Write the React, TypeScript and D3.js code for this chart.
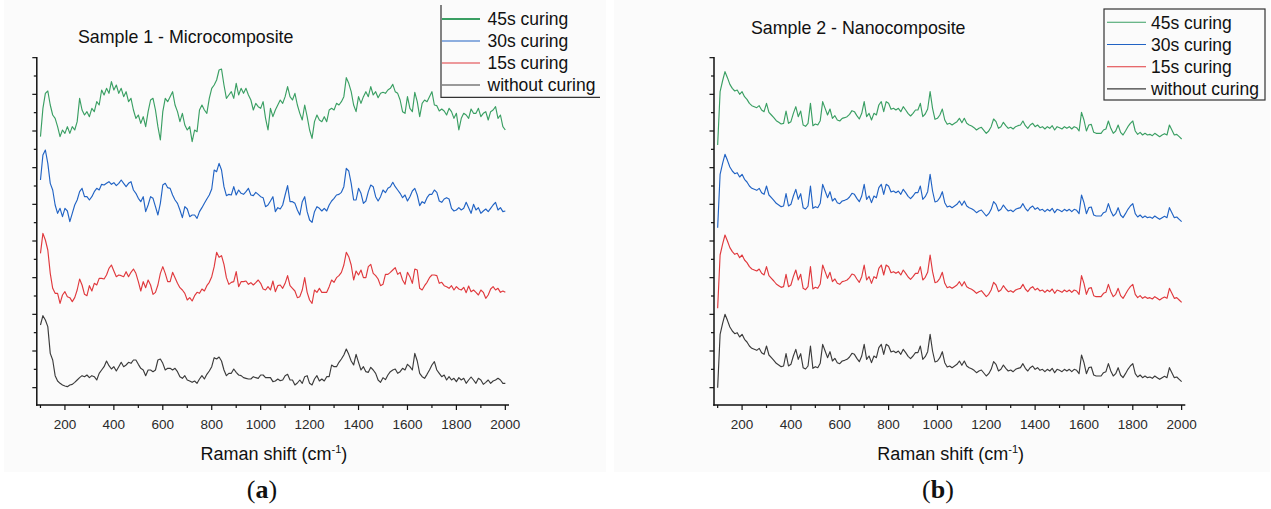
import React from 'react';
import * as d3 from 'd3';

// Raman shift sampling (cm-1)
const ramanShift: number[] = d3.range(100, 2001, 10);

const seriesNames = ['45s curing', '30s curing', '15s curing', 'without curing'];
const seriesColors = ['#3a9f63', '#2163c4', '#e0393d', '#3b3b3b'];

const xMajorTicks = [200, 400, 600, 800, 1000, 1200, 1400, 1600, 1800, 2000];
const xMinorTicks = [100, 300, 500, 700, 900, 1100, 1300, 1500, 1700, 1900];
const yMajorTicks = [52, 162, 272, 382, 492, 602, 712, 822, 932, 1042];
const yMinorTicks = [107, 217, 327, 437, 547, 657, 767, 877, 987];

// ---------- Sample 1 - Microcomposite (intensity, a.u., stacked) ----------
const micro45 = [
  805, 890, 935, 942, 900, 870, 860, 835, 805, 825,
  815, 835, 815, 835, 825, 850, 920, 885, 870, 880,
  865, 890, 880, 910, 900, 945, 930, 950, 935, 970,
  945, 960, 935, 950, 925, 940, 910, 920, 885, 860,
  870, 845, 865, 835, 880, 915, 920, 885, 835, 795,
  880, 920, 910, 925, 940, 900, 880, 850, 875, 840,
  825, 835, 790, 825, 820, 885, 900, 885, 875, 920,
  950, 960, 975, 1005, 1008, 960, 920, 930, 940, 920,
  965, 930, 950, 935, 950, 930, 915, 885, 905, 895,
  890, 910, 860, 825, 890, 865, 885, 900, 915, 905,
  925, 955, 925, 915, 935, 900, 875, 855, 900, 865,
  825, 800, 850, 870, 855, 850, 865, 850, 885, 890,
  885, 905, 900, 910, 925, 982, 965, 940, 900, 880,
  925, 905, 925, 940, 925, 955, 930, 940, 922, 935,
  938, 935, 945, 950, 962, 940, 935, 915, 880, 875,
  925, 890, 880, 938, 910, 865, 905, 915, 910, 925,
  940, 900, 898, 882, 888, 882, 870, 890, 880, 860,
  875, 825, 860, 875, 870, 860, 888, 875, 875, 890,
  865, 875, 880, 855, 880, 885, 895, 860, 870, 835,
  825,
];
const micro30 = [
  675, 750, 765, 725, 665, 645, 600, 575, 590, 565,
  590, 582, 550, 575, 600, 615, 640, 650, 625, 625,
  615, 625, 640, 650, 645, 662, 660, 665, 670, 662,
  667, 658, 665, 675, 665, 655, 665, 670, 645, 635,
  620, 610, 625, 580, 600, 625, 620, 595, 570, 605,
  660, 665, 652, 650, 630, 615, 605, 585, 562, 595,
  588, 565, 570, 570, 560, 580, 592, 605, 618, 630,
  648, 705, 700, 725, 705, 655, 628, 632, 630, 655,
  630, 645, 635, 632, 640, 650, 630, 628, 638, 632,
  625, 622, 595, 600, 612, 625, 580, 592, 588, 600,
  630, 658, 610, 610, 605, 585, 570, 610, 625, 580,
  555, 548, 580, 595, 590, 582, 590, 582, 600, 612,
  620, 630, 632, 638, 655, 710, 702, 665, 615, 615,
  650, 635, 605, 612, 640, 660, 655, 625, 612, 625,
  645, 637, 650, 655, 668, 655, 645, 635, 622, 630,
  612, 625, 642, 650, 630, 598, 610, 605, 622, 632,
  632, 645, 638, 612, 608, 618, 622, 618, 590, 582,
  585, 592, 585, 590, 608, 592, 575, 602, 585, 592,
  575, 582, 588, 580, 590, 600, 608, 585, 592, 580,
  582,
];
const micro15 = [
  455, 515, 495, 465, 395, 350, 335, 335, 305, 330,
  340, 325, 322, 310, 322, 345, 378, 360, 332, 328,
  358, 342, 365, 360, 380, 380, 378, 390, 410, 420,
  402, 385, 390, 388, 385, 400, 385, 398, 408, 395,
  370, 342, 370, 352, 375, 360, 332, 338, 360, 395,
  415, 395, 370, 370, 398, 382, 365, 352, 345, 335,
  315, 322, 312, 328, 338, 335, 348, 342, 358, 368,
  385, 415, 458, 443, 448, 422, 382, 362, 368, 370,
  400, 355, 370, 370, 372, 362, 367, 360, 367, 375,
  365, 348, 345, 355, 345, 372, 340, 358, 360, 350,
  365, 388, 358, 350, 342, 322, 325, 345, 382, 338,
  315, 305, 345, 338, 350, 338, 338, 338, 355, 375,
  368, 382, 388, 398, 420, 458, 445, 420, 375, 402,
  390, 405, 382, 382, 415, 422, 395, 388, 378, 358,
  362, 392, 392, 398, 405, 412, 392, 398, 375, 362,
  398, 385, 365, 408, 405, 350, 345, 358, 368, 382,
  390, 390, 388, 365, 368, 358, 355, 350, 358, 345,
  355, 348, 345, 353, 337, 357, 340, 345, 338, 330,
  345, 338, 320, 330, 348, 355, 345, 350, 338, 342,
  338,
];
const micro0 = [
  240, 268, 255, 235, 155, 135, 88, 72, 65, 60,
  57, 55, 60, 62, 68, 75, 82, 88, 85, 90,
  82, 88, 85, 75, 95, 105, 115, 132, 118, 108,
  115, 102, 115, 128, 115, 120, 128, 125, 135, 135,
  122, 110, 105, 88, 105, 105, 100, 105, 135, 138,
  125, 105, 110, 110, 105, 110, 100, 85, 80, 88,
  75, 72, 68, 72, 65, 78, 88, 78, 92, 102,
  115, 142, 138, 144, 132, 105, 88, 95, 95, 108,
  98, 90, 88, 82, 80, 78, 78, 85, 82, 80,
  90, 90, 82, 82, 82, 70, 72, 78, 73, 75,
  88, 92, 75, 75, 60, 66, 75, 65, 85, 88,
  65, 60, 78, 88, 72, 78, 72, 85, 85, 120,
  115, 115, 128, 138, 150, 168, 152, 132, 120, 152,
  128, 105, 115, 100, 98, 113, 105, 95, 75, 68,
  82, 76, 90, 100, 105, 108, 95, 100, 110, 105,
  122, 115, 105, 155, 132, 95, 85, 80, 92, 105,
  120, 130, 105, 95, 85, 90, 75, 85, 75, 80,
  70, 82, 75, 80, 65, 75, 84, 75, 65, 80,
  75, 62, 68, 75, 65, 72, 75, 80, 75, 65,
  65,
];

// ---------- Sample 2 - Nanocomposite (intensity, a.u., stacked) ----------
const nano45 = [
  780, 940, 972, 1000, 982, 962, 950, 942, 945, 932,
  940, 925, 917, 905, 898, 895, 892, 898, 885, 880,
  905, 878, 870, 862, 853, 848, 843, 845, 882, 845,
  850, 875, 895, 865, 882, 840, 836, 845, 905, 838,
  843, 840, 853, 910, 890, 870, 888, 860, 868, 855,
  852, 860, 862, 865, 872, 883, 880, 868, 858, 875,
  910, 865, 875, 855, 875, 870, 900, 910, 880, 910,
  905, 887, 890, 885, 890, 880, 895, 885, 874, 867,
  875, 885, 885, 905, 865, 873, 888, 940, 890, 857,
  860, 870, 888, 855, 842, 845, 840, 845, 850, 860,
  847, 860, 845, 840, 837, 832, 825, 830, 833, 824,
  815, 822, 835, 858, 850, 830, 835, 848, 838, 830,
  833, 828, 835, 838, 840, 852, 838, 830, 840, 845,
  835, 840, 832, 835, 828, 835, 830, 838, 825, 835,
  832, 828, 835, 830, 835, 828, 835, 832, 822, 878,
  855, 822, 840, 842, 818, 815, 815, 815, 825, 828,
  852, 830, 815, 822, 840, 818, 810, 822, 835, 845,
  852, 822, 812, 818, 810, 815, 810, 812, 808, 815,
  810, 805, 810, 814, 810, 840, 825, 810, 812, 805,
  798,
];
const nano30 = [
  532, 692, 724, 752, 734, 714, 702, 694, 697, 684,
  692, 677, 669, 657, 650, 647, 644, 650, 637, 632,
  657, 630, 622, 614, 605, 600, 595, 597, 634, 597,
  602, 627, 647, 617, 634, 592, 588, 597, 657, 590,
  595, 592, 605, 662, 642, 622, 640, 612, 620, 607,
  604, 612, 614, 617, 624, 635, 632, 620, 610, 627,
  662, 617, 627, 607, 627, 622, 652, 662, 632, 662,
  657, 639, 642, 637, 642, 632, 647, 637, 626, 619,
  627, 637, 637, 657, 617, 625, 640, 692, 642, 609,
  612, 622, 640, 607, 594, 597, 592, 597, 602, 612,
  599, 612, 597, 592, 589, 584, 577, 582, 585, 576,
  567, 574, 587, 610, 602, 582, 587, 600, 590, 582,
  585, 580, 587, 590, 592, 604, 590, 582, 592, 597,
  587, 592, 584, 587, 580, 587, 582, 590, 577, 587,
  584, 580, 587, 582, 587, 580, 587, 584, 574, 630,
  607, 574, 592, 594, 570, 567, 567, 567, 577, 580,
  604, 582, 567, 574, 592, 570, 562, 574, 587, 597,
  604, 574, 564, 570, 562, 567, 562, 564, 560, 567,
  562, 557, 562, 566, 562, 592, 577, 562, 564, 557,
  550,
];
const nano15 = [
  290, 450, 482, 510, 492, 472, 460, 452, 455, 442,
  450, 435, 427, 415, 408, 405, 402, 408, 395, 390,
  415, 388, 380, 372, 363, 358, 353, 355, 392, 355,
  360, 385, 405, 375, 392, 350, 346, 355, 415, 348,
  353, 350, 363, 420, 400, 380, 398, 370, 378, 365,
  362, 370, 372, 375, 382, 393, 390, 378, 368, 385,
  420, 375, 385, 365, 385, 380, 410, 420, 390, 420,
  415, 397, 400, 395, 400, 390, 405, 395, 384, 377,
  385, 395, 395, 415, 375, 383, 398, 450, 400, 367,
  370, 380, 398, 365, 352, 355, 350, 355, 360, 370,
  357, 370, 355, 350, 347, 342, 335, 340, 343, 334,
  325, 332, 345, 368, 360, 340, 345, 358, 348, 340,
  343, 338, 345, 348, 350, 362, 348, 340, 350, 355,
  345, 350, 342, 345, 338, 345, 340, 348, 335, 345,
  342, 338, 345, 340, 345, 338, 345, 342, 332, 388,
  365, 332, 350, 352, 328, 325, 325, 325, 335, 338,
  362, 340, 325, 332, 350, 328, 320, 332, 345, 355,
  362, 332, 322, 328, 320, 325, 320, 322, 318, 325,
  320, 315, 320, 324, 320, 350, 335, 320, 322, 315,
  308,
];
const nano0 = [
  52, 212, 244, 272, 254, 234, 222, 214, 217, 204,
  212, 197, 189, 177, 170, 167, 164, 170, 157, 152,
  177, 150, 142, 134, 125, 120, 115, 117, 154, 117,
  122, 147, 167, 137, 154, 112, 108, 117, 177, 110,
  115, 112, 125, 182, 162, 142, 160, 132, 140, 127,
  124, 132, 134, 137, 144, 155, 152, 140, 130, 147,
  182, 137, 147, 127, 147, 142, 172, 182, 152, 182,
  177, 159, 162, 157, 162, 152, 167, 157, 146, 139,
  147, 157, 157, 177, 137, 145, 160, 212, 162, 129,
  132, 142, 160, 127, 114, 117, 112, 117, 122, 132,
  119, 132, 117, 112, 109, 104, 97, 102, 105, 96,
  87, 94, 107, 130, 122, 102, 107, 120, 110, 102,
  105, 100, 107, 110, 112, 124, 110, 102, 112, 117,
  107, 112, 104, 107, 100, 107, 102, 110, 97, 107,
  104, 100, 107, 102, 107, 100, 107, 104, 94, 150,
  127, 94, 112, 114, 90, 87, 87, 87, 97, 100,
  124, 102, 87, 94, 112, 90, 82, 94, 107, 117,
  124, 94, 84, 90, 82, 87, 82, 84, 80, 87,
  82, 77, 82, 86, 82, 112, 97, 82, 84, 77,
  70,
];

const FONT = 'Liberation Sans, Arial, Helvetica, sans-serif';

type LegendCfg = {
  lineX: number; lineLen: number; textX: number; y0: number; dy: number;
  box: 'open' | 'full'; boxX0: number; boxX1: number; boxY0: number; boxY1: number;
  thickFirst: boolean;
};

type PanelProps = {
  xRange: [number, number];
  series: number[][];
  title: string; titleX: number; titleY: number;
  legend: LegendCfg;
  tag: string;
  tagX: number;
  bg: [number, number];
};

function Panel({ xRange, series, title, titleX, titleY, legend, tag, tagX, bg }: PanelProps) {
  const x = d3.scaleLinear().domain([85, 2015]).range(xRange);
  const y = d3.scaleLinear().domain([0, 1050]).range([405, 55]);
  const axisY = y(0);
  const axisTop = y(1044);
  const line = d3
    .line<number>()
    .x((_, i) => x(ramanShift[i]))
    .y((d) => y(d))
    .curve(d3.curveLinear);
  const cx = (xRange[0] + xRange[1]) / 2;
  const L = legend;
  return (
    <g>
      <rect x={bg[0]} y={0} width={bg[1] - bg[0]} height={472} fill="#fbfbfb" />
      {/* spectra */}
      {series
        .map((s, i) => ({ s, i }))
        .reverse()
        .map(({ s, i }) => (
          <path key={i} d={line(s.slice(0, ramanShift.length)) || ''} fill="none"
            stroke={seriesColors[i]} strokeWidth={1.15} strokeLinejoin="round" />
        ))}
      {/* y axis */}
      <line x1={xRange[0]} x2={xRange[0]} y1={axisTop} y2={axisY + 0.75} stroke="#111" strokeWidth={1.5} />
      {yMajorTicks.map((t) => (
        <line key={'ym' + t} x1={xRange[0] - 4.5} x2={xRange[0]} y1={y(t)} y2={y(t)} stroke="#111" strokeWidth={1.2} />
      ))}
      {yMinorTicks.map((t) => (
        <line key={'yn' + t} x1={xRange[0] - 3} x2={xRange[0]} y1={y(t)} y2={y(t)} stroke="#111" strokeWidth={1.2} />
      ))}
      {/* x axis */}
      <line x1={xRange[0] - 0.75} x2={xRange[1]} y1={axisY} y2={axisY} stroke="#111" strokeWidth={1.5} />
      {xMajorTicks.map((t) => (
        <g key={'xm' + t}>
          <line x1={x(t)} x2={x(t)} y1={axisY} y2={axisY + 5} stroke="#111" strokeWidth={1.2} />
          <text x={x(t)} y={428.5} textAnchor="middle" fontFamily={FONT} fontSize={13.5} fill="#2a2a2a">{t}</text>
        </g>
      ))}
      {xMinorTicks.map((t) => (
        <line key={'xn' + t} x1={x(t)} x2={x(t)} y1={axisY} y2={axisY + 3} stroke="#111" strokeWidth={1.2} />
      ))}
      {/* x label */}
      <text x={cx + 1} y={460} textAnchor="middle" fontFamily={FONT} fontSize={18} fill="#111">
        Raman shift (cm<tspan dy={-7} fontSize={11}>-1</tspan><tspan dy={7}>)</tspan>
      </text>
      {/* title */}
      <text x={titleX} y={titleY} fontFamily={FONT} fontSize={17.8} fill="#111">{title}</text>
      {/* legend */}
      {L.box === 'full' ? (
        <rect x={L.boxX0} y={L.boxY0} width={L.boxX1 - L.boxX0} height={L.boxY1 - L.boxY0} fill="none" stroke="#333" strokeWidth={1.2} />
      ) : (
        <path d={`M${L.boxX0},${L.boxY0}V${L.boxY1}H${L.boxX1}`} fill="none" stroke="#333" strokeWidth={1.2} />
      )}
      {seriesNames.map((n, i) => (
        <g key={n}>
          <line x1={L.lineX} x2={L.lineX + L.lineLen} y1={L.y0 + i * L.dy} y2={L.y0 + i * L.dy}
            stroke={seriesColors[i]} strokeWidth={L.thickFirst && i === 0 ? 2.2 : 1.1} />
          <text x={L.textX} y={L.y0 + i * L.dy + 6.2} fontFamily={FONT} fontSize={17.5} fill="#111">{n}</text>
        </g>
      ))}
      {/* panel tag */}
      <text x={tagX} y={498} textAnchor="middle" fontFamily="Liberation Serif, DejaVu Serif, serif" fontSize={26} fill="#111">
        (<tspan fontWeight="bold">{tag}</tspan>)
      </text>
    </g>
  );
}

export default function App() {
  return (
    <svg width={1271} height={509} style={{ position: 'absolute', left: 0, top: 0, background: '#fff' }}>
      <rect x={0} y={0} width={1271} height={509} fill="#fff" />
      <Panel
        xRange={[36.8, 509]}
        series={[micro45, micro30, micro15, micro0]}
        title="Sample 1 - Microcomposite"
        titleX={78}
        titleY={43}
        legend={{ lineX: 442, lineLen: 38, textX: 487.5, y0: 19, dy: 22, box: 'open', boxX0: 441, boxX1: 600, boxY0: 5, boxY1: 97.3, thickFirst: true }}
        tag="a"
        tagX={262}
        bg={[4, 606]}
      />
      <Panel
        xRange={[714, 1185.3]}
        series={[nano45, nano30, nano15, nano0]}
        title="Sample 2 - Nanocomposite"
        titleX={751}
        titleY={34}
        legend={{ lineX: 1107, lineLen: 39, textX: 1151, y0: 22.3, dy: 22.2, box: 'full', boxX0: 1104, boxX1: 1265, boxY0: 9, boxY1: 100, thickFirst: false }}
        tag="b"
        tagX={938}
        bg={[614, 1270]}
      />
    </svg>
  );
}
